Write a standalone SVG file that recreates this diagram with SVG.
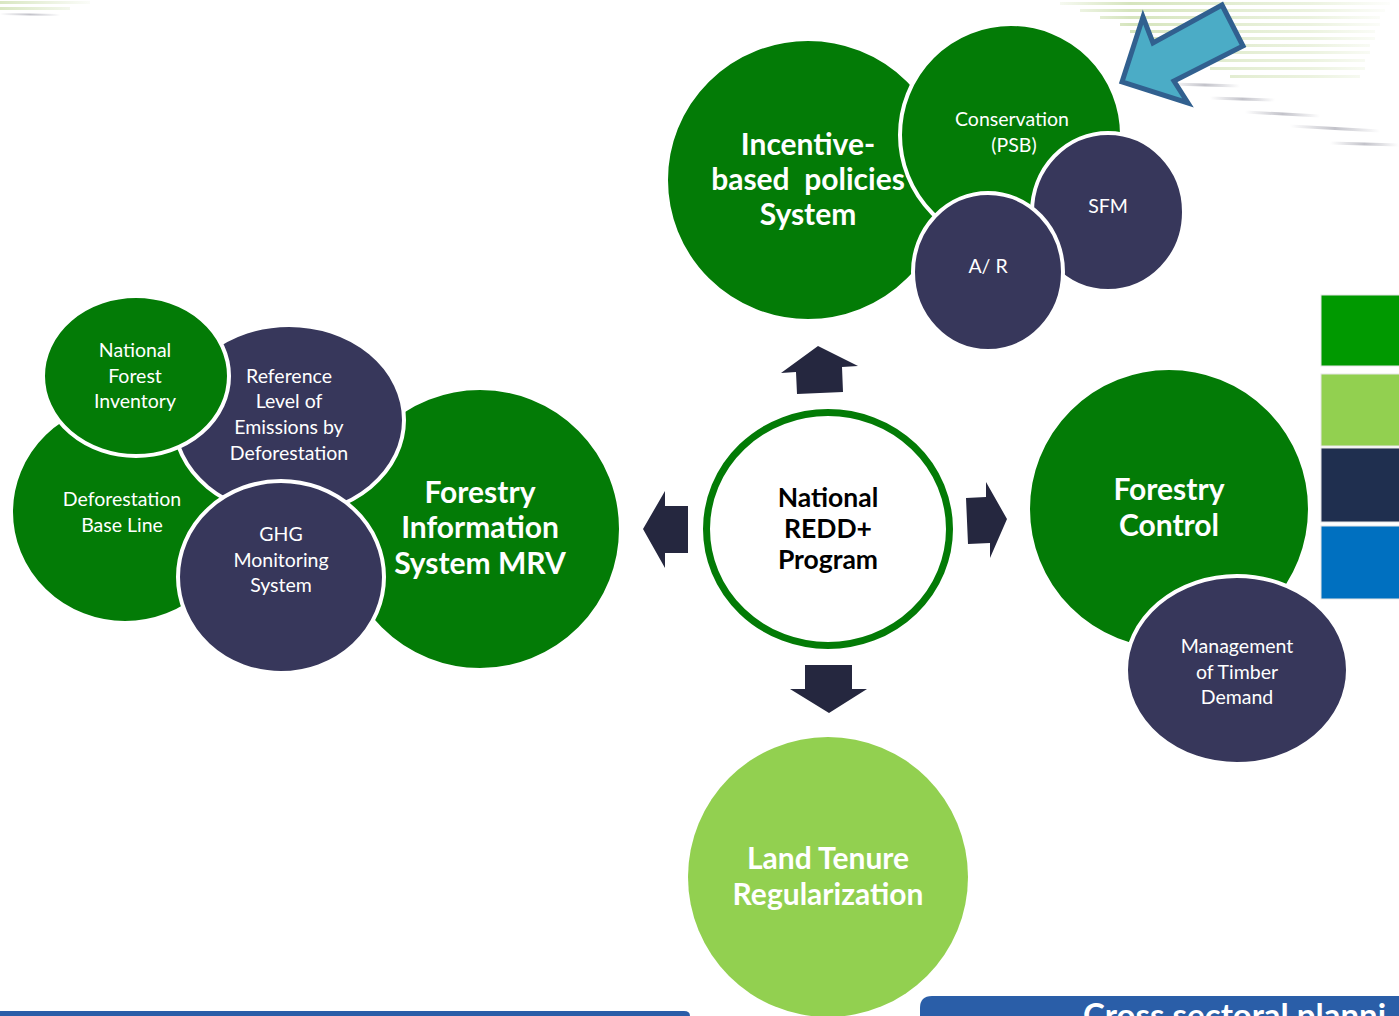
<svg xmlns="http://www.w3.org/2000/svg" width="1399" height="1016" viewBox="0 0 1399 1016">
<defs>
<style>
.g{fill:#037B06;stroke:#fff;stroke-width:4}
.n{fill:#37375B;stroke:#fff;stroke-width:4}
.lg{fill:#92D050}
.arr{fill:#25273F}
.t{font-family:Lato,"Open Sans","Liberation Sans",sans-serif;fill:#fff;text-anchor:middle}
.s{font-size:19.5px}
.b{font-size:30px;font-weight:bold}
.c{font-family:Lato,"Open Sans","Liberation Sans",sans-serif;fill:#000;text-anchor:middle;font-size:26.5px;font-weight:bold}
.st{stroke-linecap:round}
</style>
<linearGradient id="fadeG" gradientUnits="userSpaceOnUse" x1="1040" y1="0" x2="1399" y2="0">
<stop offset="0" stop-color="#c8dca8" stop-opacity="0"/>
<stop offset="0.25" stop-color="#c8dca8" stop-opacity="0.75"/>
<stop offset="0.75" stop-color="#dbe8c4" stop-opacity="0.55"/>
<stop offset="1" stop-color="#dbe8c4" stop-opacity="0"/>
</linearGradient>
<linearGradient id="fadeL" gradientUnits="userSpaceOnUse" x1="0" y1="0" x2="100" y2="0">
<stop offset="0" stop-color="#c8dca8" stop-opacity="0.7"/>
<stop offset="1" stop-color="#c8dca8" stop-opacity="0"/>
</linearGradient>
<linearGradient id="fadeK" x1="0" y1="0" x2="1" y2="0">
<stop offset="0" stop-color="#9a9aa6" stop-opacity="0"/>
<stop offset="0.5" stop-color="#9a9aa6" stop-opacity="0.6"/>
<stop offset="1" stop-color="#9a9aa6" stop-opacity="0"/>
</linearGradient>
</defs>
<rect width="1399" height="1016" fill="#fff"/>
<g id="background-streaks">
<g fill="url(#fadeG)">
<rect x="1060" y="2" width="330" height="3"/>
<rect x="1080" y="9" width="305" height="3"/>
<rect x="1100" y="16" width="280" height="3"/>
<rect x="1120" y="23" width="260" height="3"/>
<rect x="1130" y="30" width="245" height="3"/>
<rect x="1140" y="37" width="235" height="3"/>
<rect x="1150" y="44" width="220" height="3"/>
<rect x="1170" y="51" width="200" height="3"/>
<rect x="1190" y="59" width="175" height="3"/>
<rect x="1210" y="67" width="155" height="3"/>
<rect x="1230" y="75" width="130" height="3"/>
</g>
<g stroke="url(#fadeK)" stroke-width="3" class="st">
<line x1="1170" y1="84" x2="1240" y2="86"/>
<line x1="1210" y1="98" x2="1275" y2="100"/>
<line x1="1245" y1="112" x2="1320" y2="116"/>
<line x1="1290" y1="126" x2="1380" y2="131"/>
<line x1="1330" y1="143" x2="1399" y2="145"/>
</g>
<g fill="url(#fadeL)">
<rect x="0" y="1" width="90" height="3"/>
<rect x="0" y="7" width="70" height="3"/>
</g>
<g stroke="url(#fadeK)" stroke-width="2">
<line x1="0" y1="14" x2="60" y2="15"/>
</g>
</g>
<g id="pointer-arrow">
<polygon points="1122,82 1143,17 1153,43 1222,5 1243,46 1174,81 1188,103" fill="#4BACC6" stroke="#31608F" stroke-width="5" stroke-linejoin="miter"/>
</g>
<g id="legend-squares" stroke="#e6e6e6" stroke-width="1">
<rect x="1321" y="295" width="80" height="71" fill="#009900"/>
<rect x="1321" y="374" width="80" height="72" fill="#92D050"/>
<rect x="1321" y="448" width="80" height="74" fill="#1F2F4F"/>
<rect x="1321" y="526" width="80" height="73" fill="#0070C0"/>
</g>
<g id="connectors">
<polygon class="arr" points="818,346 858,366 842,367 843,392 797,394 796,372 781,373"/>
<polygon class="arr" points="805,665 852,665 852,689 867,689 829,713 790,689 805,689"/>
<polygon class="arr" points="643,529 665,491 665,506 688,506 688,553 665,553 665,568"/>
<polygon class="arr" points="966,498 986,497 986,482 1007,519 990,558 990,543 968,544"/>
</g>
<g id="node-center">
<ellipse cx="828" cy="529" rx="121.5" ry="116.5" fill="#fff" stroke="#037B06" stroke-width="7"/>
<text class="c" x="828" y="507">National</text>
<text class="c" x="828" y="538">REDD+</text>
<text class="c" x="828" y="569">Program</text>
</g>
<g id="node-fis-mrv">
<circle class="g" cx="480" cy="529" r="141"/>
<text class="t b" x="480" y="503">Forestry</text>
<text class="t b" x="480" y="538">Information</text>
<text class="t b" x="480" y="574">System MRV</text>
</g>
<g id="node-deforestation-baseline">
<ellipse class="g" cx="125" cy="512" rx="114" ry="111"/>
<text class="t s" x="122" y="506">Deforestation</text>
<text class="t s" x="122" y="532">Base Line</text>
</g>
<g id="node-reference-level">
<ellipse class="n" cx="289" cy="420" rx="115" ry="95"/>
<text class="t s" x="289" y="383">Reference</text>
<text class="t s" x="289" y="408">Level of</text>
<text class="t s" x="289" y="434">Emissions by</text>
<text class="t s" x="289" y="460">Deforestation</text>
</g>
<g id="node-national-forest-inventory">
<ellipse class="g" cx="136" cy="376" rx="93" ry="80"/>
<text class="t s" x="135" y="357">National</text>
<text class="t s" x="135" y="383">Forest</text>
<text class="t s" x="135" y="408">Inventory</text>
</g>
<g id="node-ghg">
<ellipse class="n" cx="281" cy="577" rx="103" ry="96"/>
<text class="t s" x="281" y="541">GHG</text>
<text class="t s" x="281" y="567">Monitoring</text>
<text class="t s" x="281" y="592">System</text>
</g>
<g id="node-incentive">
<ellipse class="g" cx="808" cy="180" rx="142" ry="141"/>
<text class="t b" x="808" y="155">Incentive-</text>
<text class="t b" x="808" y="190" xml:space="preserve">based  policies</text>
<text class="t b" x="808" y="225">System</text>
</g>
<g id="node-conservation">
<circle class="g" cx="1011" cy="135" r="111"/>
<text class="t s" x="1012" y="126">Conservation</text>
<text class="t s" x="1014" y="152">(PSB)</text>
</g>
<g id="node-sfm">
<ellipse class="n" cx="1108" cy="212" rx="76" ry="79"/>
<text class="t s" x="1108" y="213">SFM</text>
</g>
<g id="node-ar">
<ellipse class="n" cx="988" cy="272" rx="75" ry="79"/>
<text class="t s" x="988" y="273">A/ R</text>
</g>
<g id="node-forestry-control">
<circle class="g" cx="1169" cy="509" r="141"/>
<text class="t b" x="1169" y="500">Forestry</text>
<text class="t b" x="1169" y="536">Control</text>
</g>
<g id="node-timber-demand">
<ellipse class="n" cx="1237" cy="670" rx="111" ry="94"/>
<text class="t s" x="1237" y="653">Management</text>
<text class="t s" x="1237" y="679">of Timber</text>
<text class="t s" x="1237" y="704">Demand</text>
</g>
<g id="node-land-tenure">
<circle class="lg" cx="828" cy="877" r="140"/>
<text class="t b" x="828" y="869">Land Tenure</text>
<text class="t b" x="828" y="905">Regularization</text>
</g>
<g id="bottom-bars">
<path d="M0,1011 H684 Q690,1011 690,1016 H0 Z" fill="#2A5DA8"/>
<path d="M920,1016 V1008 Q920,996 932,996 H1399 V1016 Z" fill="#2A5EA8"/>
<text x="1083" y="1027" font-family="Lato,'Open Sans','Liberation Sans',sans-serif" font-size="33" font-weight="bold" fill="#fff">Cross sectoral planni</text>
</g>
</svg>
